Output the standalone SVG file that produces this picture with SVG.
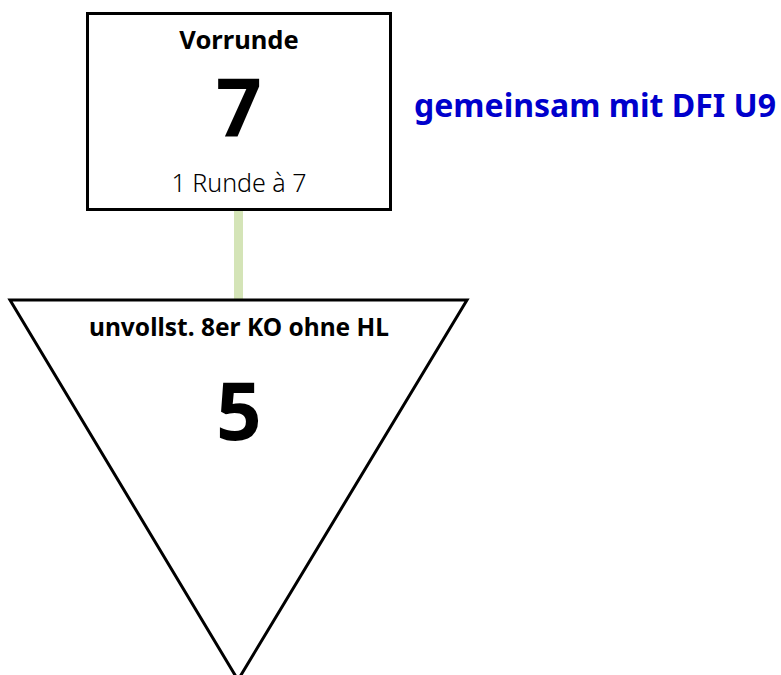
<svg xmlns="http://www.w3.org/2000/svg" width="781" height="675" viewBox="0 0 781 675">
<style>
.t{font-family:"Noto Sans","Open Sans",sans-serif;fill:#000;text-anchor:middle}
.b{font-weight:bold}
.shape{fill:#fff;stroke:#000;stroke-width:3}
</style>
<rect width="781" height="675" fill="#fff"/>
<g id="connectors">
<line x1="238.5" y1="210" x2="238.5" y2="300" stroke="#d4e4b7" stroke-width="9"/>
</g>
<g id="vorrunde">
<rect class="shape" x="87.5" y="13.5" width="303" height="196"/>
<text class="t b" x="239" y="49" font-size="25.5">Vorrunde</text>
<text class="t b" x="239" y="137" font-size="80">7</text>
<text class="t" x="239" y="192" font-size="25" font-weight="300">1 Runde à 7</text>
</g>
<g id="ko">
<polygon class="shape" points="10,300 467,300 238,680"/>
<text class="t b" x="239" y="336" font-size="24.5">unvollst. 8er KO ohne HL</text>
<text class="t b" x="239" y="440" font-size="80">5</text>
</g>
<g id="note">
<text x="414" y="117" font-family="Noto Sans,Open Sans,sans-serif" font-weight="bold" font-size="32" fill="#0000cc">gemeinsam mit DFI U9</text>
</g>
</svg>
